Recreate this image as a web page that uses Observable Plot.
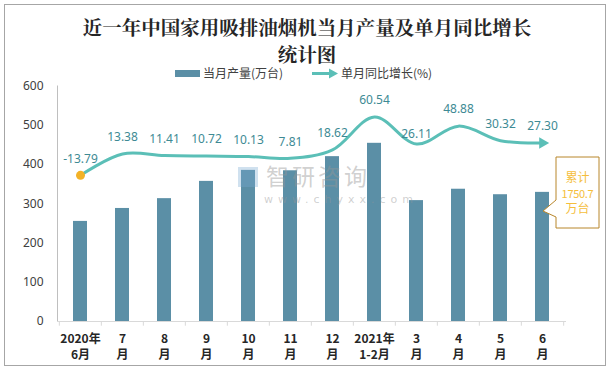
<!DOCTYPE html>
<html><head><meta charset="utf-8">
<script src="https://cdn.jsdelivr.net/npm/d3@7"></script>
<script src="https://cdn.jsdelivr.net/npm/@observablehq/plot@0.6"></script>
<style>
body{margin:0;background:#fff;}
#wrap{position:relative;width:613px;height:370px;overflow:hidden;font-family:"Noto Sans CJK SC","Noto Sans",sans-serif;background:#fff;}
#border{position:absolute;left:4px;top:4px;width:602px;height:362px;border:1px solid #A6A6A6;box-sizing:border-box;}
.title{position:absolute;left:0;width:614px;text-align:center;font-size:19.5px;line-height:20px;height:20px;font-weight:bold;color:#262626;font-family:"Noto Serif CJK SC","Noto Sans CJK SC",serif;}
#t1{top:17px;}
#t2{top:44px;}
#legend{position:absolute;left:0;top:64px;width:613px;height:18px;font-size:12px;color:#404040;}
#legend .sw{position:absolute;left:175px;top:6px;width:25px;height:7px;background:#5B8FA6;}
#legend .t1{position:absolute;left:203px;top:0;line-height:18px;}
#legend .t2{position:absolute;left:341px;top:0;line-height:18px;}
#legend svg{position:absolute;left:310px;top:0;}
#chart{position:absolute;left:0;top:0;}
#wm{position:absolute;left:0;top:0;pointer-events:none;}
#callout{position:absolute;left:0;top:0;}
</style></head><body>
<div id="wrap">
  <div id="border"></div>
  <div class="title" id="t1">近一年中国家用吸排油烟机当月产量及单月同比增长</div>
  <div class="title" id="t2">统计图</div>
  <div id="legend">
    <div class="sw"></div><div class="t1">当月产量(万台)</div>
    <svg width="30" height="18"><line x1="2" y1="9.5" x2="20" y2="9.5" stroke="#5BBFB7" stroke-width="3"/><path d="M19,4.5 L28,9.5 L19,14.5 Z" fill="#5BBFB7"/></svg>
    <div class="t2">单月同比增长(%)</div>
  </div>
  <div id="chart"></div>
  <svg id="wm" width="613" height="370">
    <rect x="238" y="167" width="20" height="20" fill="rgba(120,170,210,0.35)"/>
    <text x="266" y="185" font-size="23" letter-spacing="3" fill="rgba(150,150,150,0.45)" font-family="Noto Sans CJK SC">智研咨询</text>
    <text x="264" y="203" font-size="11" letter-spacing="5" fill="rgba(150,150,150,0.45)" font-family="DejaVu Sans">www.chyxx.com</text>
  </svg>
  <svg id="callout" width="613" height="370"></svg>
</div>
<script>
const months = ["2020年\n6月","7\n月","8\n月","9\n月","10\n月","11\n月","12\n月","2021年\n1-2月","3\n月","4\n月","5\n月","6\n月"];
const output = [255, 288, 313, 357, 385, 384, 420, 454, 308, 337, 323, 329];
const growth = [-13.79, 13.38, 11.41, 10.72, 10.13, 7.81, 18.62, 60.54, 26.11, 48.88, 30.32, 27.30];
const cumulativeLabel = ["累计", "1750.7", "万台"];
const yTicks = [0, 100, 200, 300, 400, 500, 600];
const growthDomain = [-200, 100];

const data = months.map((m, i) => ({
  m, out: output[i], g: growth[i],
  gy: (growth[i] - growthDomain[0]) / (growthDomain[1] - growthDomain[0]) * 600
}));
const last = data[data.length - 1];
const bw = (613 - 57 - 48) / months.length;

const plot = Plot.plot({
  width: 613, height: 370,
  marginTop: 85.5, marginBottom: 49, marginLeft: 57, marginRight: 48,
  x: {domain: months, padding: 0, label: null},
  y: {domain: [0, 600], label: null},
  style: {fontFamily: '"Noto Sans","Noto Sans CJK SC",sans-serif', background: "transparent", overflow: "visible"},
  marks: [
    Plot.barY(data, {x: "m", y: "out", fill: "#5B8FA6", insetLeft: 14, insetRight: 14}),
    Plot.frame({anchor: "left", stroke: "#BFBFBF"}),
    Plot.frame({anchor: "bottom", stroke: "#D9D9D9"}),
    Plot.ruleX(data, {x: "m", dx: -bw / 2, y1: 0, y2: -12, stroke: "#D9D9D9"}),
    Plot.ruleX([last], {x: "m", dx: bw / 2, y1: 0, y2: -12, stroke: "#D9D9D9"}),
    Plot.axisY({ticks: yTicks, tickSize: 0, tickPadding: 14, fontSize: 12, fill: "#404040", label: null}),
    Plot.axisX({tickSize: 0, tickPadding: 10, fontSize: 12, fontWeight: "bold", lineHeight: 1.35, fill: "#262626", label: null, fontFamily: '"Noto Sans CJK SC",sans-serif'}),
    Plot.line(data, {x: "m", y: "gy", curve: "catmull-rom", stroke: "#5BBFB7", strokeWidth: 3}),
    Plot.dot([data[0]], {x: "m", y: "gy", r: 4.5, fill: "#F3B227"}),
    Plot.dot([last], {x: "m", y: "gy", symbol: "triangle2", rotate: 90, r: 5.5, fill: "#5BBFB7"}),
    Plot.text(data.filter(d => d.g !== 26.11), {x: "m", y: "gy", text: d => d.g.toFixed(2), dy: -16.5, fontSize: 12, fill: "#3E8A94"}),
    Plot.text(data.filter(d => d.g === 26.11), {x: "m", y: "gy", text: d => d.g.toFixed(2), dy: -10, fontSize: 12, fill: "#3E8A94"})
  ]
});
document.getElementById("chart").appendChild(plot);

// callout box beside the last bar
const co = d3.select("#callout");
const bx0 = 556, bx1 = 599, by0 = 157, by1 = 228;
co.append("path")
  .attr("d", `M${bx0},${by0}H${bx1}V${by1}H${bx0}V217L543,211L${bx0},200Z`)
  .attr("fill", "#fff").attr("stroke", "#B8862B").attr("stroke-width", 1);
co.selectAll("text").data(cumulativeLabel).join("text")
  .attr("x", (bx0 + bx1) / 2).attr("y", (d, i) => 182 + i * 15.5)
  .attr("text-anchor", "middle").attr("font-size", (d, i) => i === 1 ? 11 : 12)
  .attr("letter-spacing", (d, i) => i === 1 ? -0.3 : 0)
  .attr("font-family", '"Noto Sans CJK SC",sans-serif')
  .attr("fill", "#F5BE3C").text(d => d);
</script>
</body></html>
